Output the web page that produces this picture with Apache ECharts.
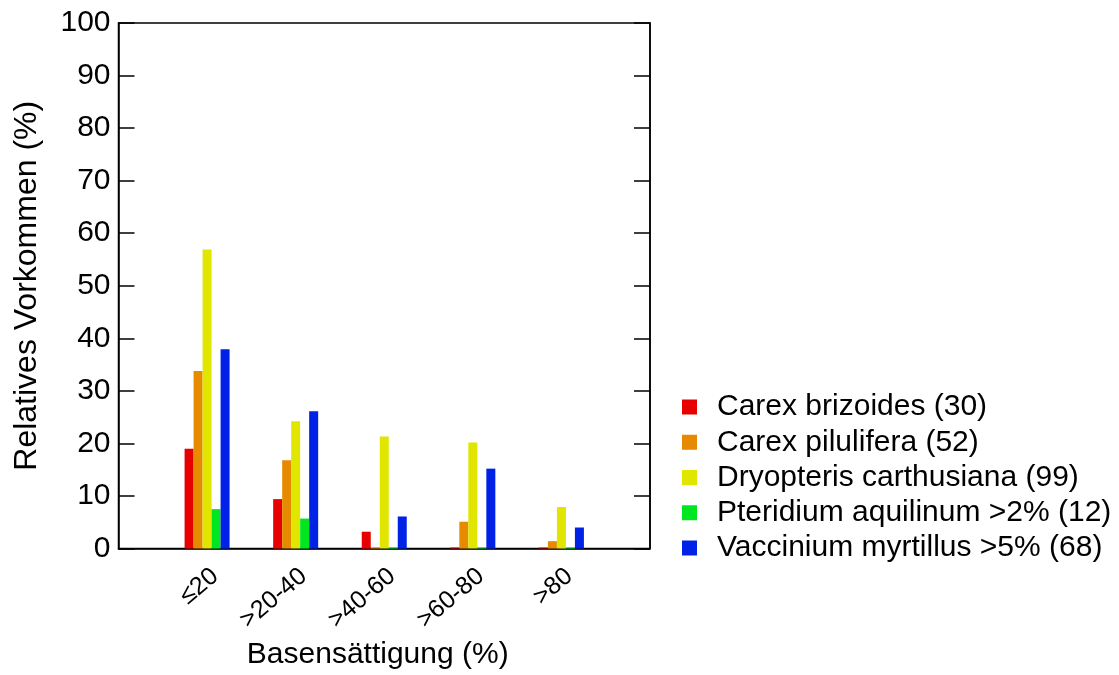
<!DOCTYPE html>
<html>
<head>
<meta charset="utf-8">
<script src="https://cdn.jsdelivr.net/npm/echarts@6/dist/echarts.min.js"></script>
<style>
  html, body { margin: 0; padding: 0; width: 1119px; height: 675px; overflow: hidden; background: #ffffff; }
  #chart { position: absolute; left: 0; top: 0; width: 1119px; height: 675px; }
</style>
</head>
<body>
<div id="chart"></div>
<script>
// Basensättigung classes (x axis)
const categories = ['≤20', '>20-40', '>40-60', '>60-80', '>80'];

// Relative occurrence (%) per species in each class
const carexBrizoides = [19.0, 9.4, 3.2, 0.2, 0.2];
const carexPilulifera = [33.8, 16.8, 0.2, 5.1, 1.4];
const dryopterisCarthusiana = [56.9, 24.2, 21.3, 20.2, 7.9];
const pteridiumAquilinum = [7.5, 5.7, 0.2, 0.2, 0.2];
const vacciniumMyrtillus = [37.9, 26.1, 6.1, 15.2, 4.0];

const seriesNames = [
  'Carex brizoides (30)',
  'Carex pilulifera (52)',
  'Dryopteris carthusiana (99)',
  'Pteridium aquilinum >2% (12)',
  'Vaccinium myrtillus >5% (68)'
];
const seriesValues = [carexBrizoides, carexPilulifera, dryopterisCarthusiana, pteridiumAquilinum, vacciniumMyrtillus];
const seriesColors = ['#e60000', '#e68a00', '#e0e600', '#00e620', '#0022e6'];

const yTicks = [0, 10, 20, 30, 40, 50, 60, 70, 80, 90, 100];

const FONT = 'Liberation Sans, Arial, Helvetica, sans-serif';

const chart = echarts.init(document.getElementById('chart'), null, { renderer: 'canvas', width: 1119, height: 675 });

// classes sit at x = 1..5 on a 0..6 value axis
const series = seriesValues.map((vals, s) => ({
  name: seriesNames[s],
  type: 'bar',
  barWidth: 9,
  barGap: '0%',
  barMinHeight: 1,
  itemStyle: { color: seriesColors[s] },
  emphasis: { disabled: true },
  data: vals.map((v, i) => [i + 1, v])
}));

const axisLineStyle = { color: '#000', width: 1.5 };

const option = {
  animation: false,
  backgroundColor: '#ffffff',
  textStyle: { fontFamily: FONT, color: '#000' },
  grid: {
    left: 118.5,
    top: 23,
    width: 531.5,
    height: 531,
    show: true,
    borderColor: '#000',
    borderWidth: 1.5,
    containLabel: false
  },
  legend: {
    orient: 'vertical',
    left: 682,
    top: 392,
    padding: 0,
    icon: 'rect',
    itemWidth: 15,
    itemHeight: 15,
    itemGap: 5.25,
    selectedMode: false,
    textStyle: { fontFamily: FONT, fontSize: 30, lineHeight: 30, color: '#000', padding: [0, 0, 0, 15] },
    data: seriesNames
  },
  xAxis: {
    type: 'value',
    min: 0,
    max: 6,
    interval: 1,
    name: 'Basensättigung (%)',
    nameLocation: 'middle',
    nameGap: 87,
    nameTextStyle: { fontFamily: FONT, fontSize: 30, color: '#000', padding: [0, 13, 0, 0] },
    axisLine: { show: true, lineStyle: axisLineStyle },
    axisTick: { show: false },
    splitLine: { show: false },
    axisLabel: {
      rotate: 40,
      margin: 15,
      verticalAlign: 'top',
      fontFamily: FONT,
      fontSize: 25,
      color: '#000',
      showMinLabel: false,
      showMaxLabel: false,
      formatter: (v) => categories[v - 1] || ''
    }
  },
  yAxis: [
    {
      type: 'value',
      min: yTicks[0],
      max: yTicks[yTicks.length - 1],
      interval: 10,
      name: 'Relatives Vorkommen (%)',
      nameLocation: 'middle',
      nameGap: 75,
      nameTextStyle: { fontFamily: FONT, fontSize: 32, color: '#000' },
      axisLine: { show: true, lineStyle: axisLineStyle },
      axisTick: { show: true, inside: true, length: 16, lineStyle: axisLineStyle },
      splitLine: { show: false },
      axisLabel: { margin: 8, fontFamily: FONT, fontSize: 30, color: '#000' }
    },
    {
      type: 'value',
      position: 'right',
      min: yTicks[0],
      max: yTicks[yTicks.length - 1],
      interval: 10,
      axisLine: { show: true, lineStyle: axisLineStyle },
      axisTick: { show: true, inside: true, length: 16, lineStyle: axisLineStyle },
      splitLine: { show: false },
      axisLabel: { show: false }
    }
  ],
  series: series
};

chart.setOption(option);
</script>
</body>
</html>
